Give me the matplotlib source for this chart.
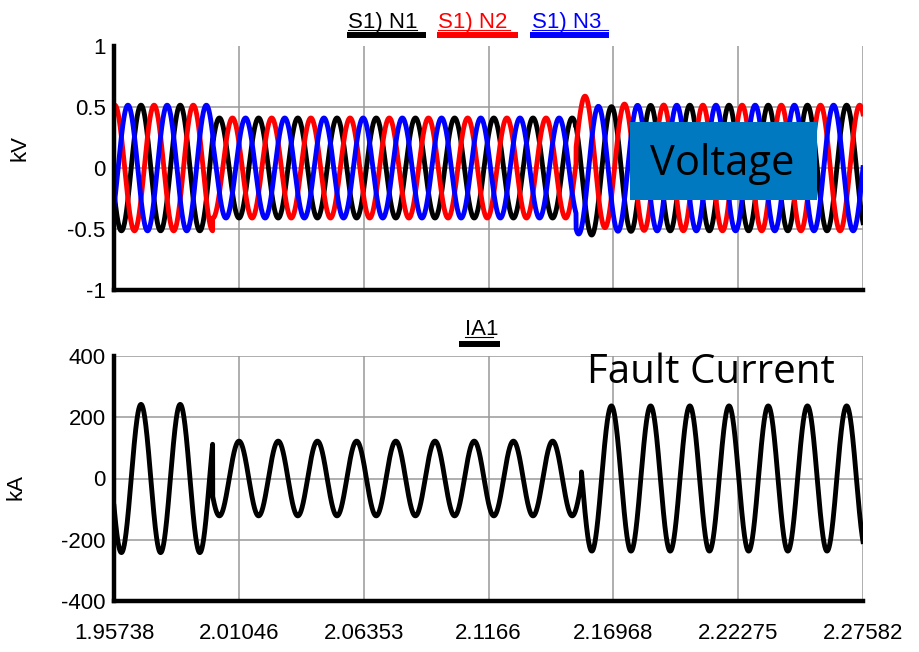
import numpy as np
import matplotlib.pyplot as plt
from matplotlib.lines import Line2D
from matplotlib.patches import Rectangle

plt.rcParams['font.family'] = ['Liberation Sans', 'DejaVu Sans']

# time axis (s)
t_first = 1.95738
t_last = 2.27582
x_ticks = [1.95738, 2.01046, 2.06353, 2.1166, 2.16968, 2.22275, 2.27582]
x_tick_labels = ['1.95738', '2.01046', '2.06353', '2.1166', '2.16968', '2.22275', '2.27582']

freq = 60.0
t_peak = 1.96886          # a positive peak of N1 / IA1

# fault window (s)
v_fault_on, v_fault_off = 1.9993, 2.1538
i_fault_on, i_fault_off = 1.9993, 2.1561

# voltage: amplitude before / during / after fault (kV)
v_amp = [0.515, 0.41, 0.515]
v_names = ['S1) N1', 'S1) N2', 'S1) N3']
v_colors = ['black', 'red', 'blue']
v_shift = [0, -120, -240]       # phase lag, degrees
v_kick = [-0.08, 0.12, -0.03]   # dc offset right after clearing (kV)
kick_tau = 0.008

# current IA1: amplitude before / during / after fault (kA)
i_amp = [242, 122, 237]
i_shift = [0, 180, 0]

v_yticks = [-1, -0.5, 0, 0.5, 1]
v_ylabels = ['-1', '-0.5', '0', '0.5', '1']
i_yticks = [-400, -200, 0, 200, 400]
i_ylabels = ['-400', '-200', '0', '200', '400']

W, H = 920, 652


def fx(x):
    return x / W


def fy(y):
    return 1 - y / H


t = np.arange(t_first, t_last, 2e-5)
w = 2 * np.pi * freq
seg_v = np.digitize(t, [v_fault_on, v_fault_off])
seg_i = np.digitize(t, [i_fault_on, i_fault_off])
after = np.where(t >= v_fault_off, np.exp(-(t - v_fault_off) / kick_tau), 0.0)

fig = plt.figure(figsize=(9.2, 6.52), dpi=100)
ax1 = fig.add_axes([fx(114), fy(290), 749 / W, 244 / H])
ax2 = fig.add_axes([fx(114), fy(601), 749 / W, 245 / H])

for k in range(3):
    amp = np.array(v_amp)[seg_v]
    v = amp * np.cos(w * (t - t_peak) + np.radians(v_shift[k])) + v_kick[k] * after
    ax1.plot(t, v, color=v_colors[k], lw=3.5, zorder=3)

amp = np.array(i_amp)[seg_i]
sh = np.radians(np.array(i_shift))[seg_i]
cur = amp * np.cos(w * (t - t_peak) + sh)
ax2.plot(t, cur, color='black', lw=3.5, zorder=3)


def style(ax, yticks, ylabels, ylab, lab_x, lab_y, top_grid):
    ax.set_xlim(t_first, t_last)
    ax.set_ylim(yticks[0], yticks[-1])
    ax.set_xticks(x_ticks)
    ax.set_yticks(yticks)
    ax.set_yticklabels(ylabels)
    ax.grid(True, axis='x', color='#999999', lw=1.1)
    grid_y = yticks[1:] if top_grid else yticks[1:-1]
    for y in grid_y:
        ax.axhline(y, color='#999999', lw=1.1, zorder=1)
    for s in ['top', 'right']:
        ax.spines[s].set_visible(False)
    for s in ['left', 'bottom']:
        ax.spines[s].set_linewidth(3.2)
        ax.spines[s].set_color('black')
        ax.spines[s].set_zorder(4)
    ax.tick_params(length=0, labelsize=16)
    ax.tick_params(axis='y', pad=6)
    ax.tick_params(axis='x', pad=16)
    ax.set_ylabel(ylab, fontsize=16)
    ax.yaxis.set_label_coords(lab_x, lab_y)


style(ax1, v_yticks, v_ylabels, 'kV', -0.111, 0.58, False)
ax1.set_xticklabels([])
style(ax2, i_yticks, i_ylabels, 'kA', -0.117, 0.465, True)
ax2.set_xticklabels(x_tick_labels)

# legend-like headers
head_x = [348, 438, 532]
head_end = [417, 510, 608]
bar_x = [(347, 426), (437, 518), (530, 609)]
for k in range(3):
    fig.text(fx(head_x[k]), fy(28), v_names[k], color=v_colors[k], fontsize=16,
             ha='left', va='baseline')
    fig.add_artist(Line2D([fx(head_x[k]), fx(head_end[k])], [fy(30), fy(30)],
                          transform=fig.transFigure, color=v_colors[k], lw=0.8))
    fig.add_artist(Line2D([fx(bar_x[k][0]), fx(bar_x[k][1])], [fy(34.5), fy(34.5)],
                          transform=fig.transFigure, color=v_colors[k], lw=4.3,
                          solid_capstyle='butt'))

fig.text(fx(465), fy(335), 'IA1', color='black', fontsize=16, ha='left', va='baseline')
fig.add_artist(Line2D([fx(465), fx(493)], [fy(337), fy(337)],
                      transform=fig.transFigure, color='black', lw=0.8))
fig.add_artist(Line2D([fx(459), fx(500)], [fy(344), fy(344)],
                      transform=fig.transFigure, color='black', lw=4.3,
                      solid_capstyle='butt'))

# annotations
fig.add_artist(Rectangle((fx(630), fy(200)), 187 / W, 78 / H, transform=fig.transFigure,
                         facecolor='#0079C1', edgecolor='none', zorder=5))
fig.text(fx(722), fy(175), 'Voltage', family='Open Sans', fontsize=30,
         ha='center', va='baseline', zorder=6)
fig.text(fx(587), fy(383), 'Fault Current', family='Open Sans', fontsize=29,
         ha='left', va='baseline', zorder=6)

fig.savefig('out.png', dpi=100, facecolor='white')
